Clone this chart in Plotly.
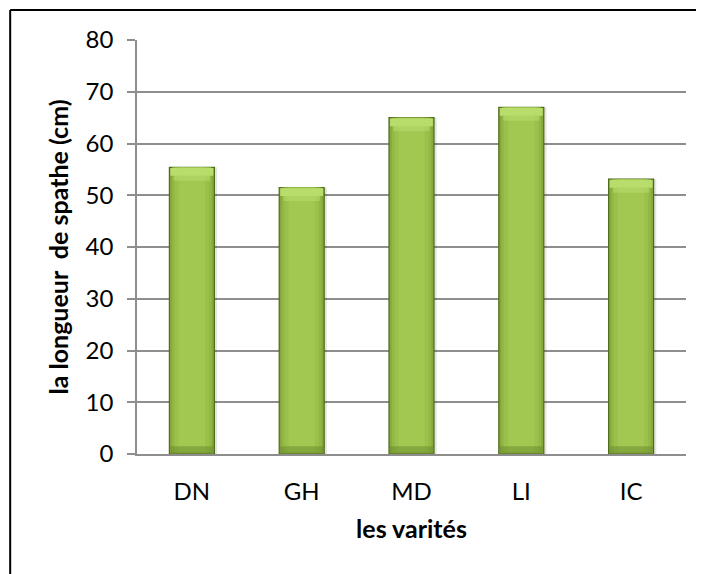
import plotly.graph_objects as go

categories = ["DN", "GH", "MD", "LI", "IC"]
values = [55.4, 51.5, 65.0, 67.0, 53.1]
y_ticks = [0, 10, 20, 30, 40, 50, 60, 70, 80]

FONT = "Lato"
GRID = "#8e8e8e"
W = 0.41

fig = go.Figure()

# soft shadow
fig.add_trace(go.Bar(x=categories, y=values, width=W, offset=-W / 2 + 0.025,
                     marker=dict(color="rgba(0,0,0,0.10)", line=dict(width=0)),
                     hoverinfo="skip", showlegend=False))
# outer bar (dark edges + outline)
fig.add_trace(go.Bar(x=categories, y=values, width=W,
                     marker=dict(color="#86a93c", line=dict(color="#4f6b1c", width=1.2)),
                     showlegend=False))
# gradient bands
for w, c in [(0.36, "#93b845"), (0.31, "#9bc14c"), (0.24, "#a2c852")]:
    fig.add_trace(go.Bar(x=categories, y=[v - 0.35 for v in values], base=[0.35] * 5, width=w,
                         marker=dict(color=c, line=dict(width=0)),
                         hoverinfo="skip", showlegend=False))
# bottom bevel
fig.add_trace(go.Bar(x=categories, y=[1.3] * 5, base=[0.2] * 5, width=W - 0.02,
                     marker=dict(color="rgba(100,130,40,0.45)", line=dict(width=0)),
                     hoverinfo="skip", showlegend=False))
# top bevel
fig.add_trace(go.Bar(x=categories, y=[1.5] * 5, base=[v - 1.65 for v in values], width=W - 0.02,
                     marker=dict(color="#b9dd6c", line=dict(width=0)),
                     hoverinfo="skip", showlegend=False))
fig.add_trace(go.Bar(x=categories, y=[1.0] * 5, base=[v - 2.6 for v in values], width=W - 0.08,
                     marker=dict(color="rgba(185,221,108,0.55)", line=dict(width=0)),
                     hoverinfo="skip", showlegend=False))

fig.update_layout(
    width=696, height=566,
    margin=dict(l=129, r=18, t=32, b=120),
    barmode="overlay",
    paper_bgcolor="white", plot_bgcolor="white",
    font=dict(family=FONT, size=24, color="#000000"),
    xaxis=dict(
        type="category",
        title=dict(text="<b>les varités</b>", font=dict(family=FONT, size=25), standoff=17),
        showgrid=False, showline=True, linecolor=GRID, linewidth=1.5,
        ticks="", ticklabelstandoff=15,
        tickfont=dict(family=FONT, size=24),
    ),
    yaxis=dict(
        range=[0, 80], tickvals=y_ticks,
        title=dict(text="<b>la longueur  de spathe (cm)</b>", font=dict(family=FONT, size=25), standoff=10),
        showgrid=True, gridcolor=GRID, gridwidth=1.5,
        showline=True, linecolor=GRID, linewidth=1.5,
        ticks="outside", ticklen=8, tickcolor=GRID, tickwidth=1.5,
        ticklabelstandoff=9,
        tickfont=dict(family=FONT, size=24),
        zeroline=False,
    ),
    shapes=[
        dict(type="line", xref="paper", yref="paper", x0=-0.231, x1=1.2, y0=1.0724, y1=1.0724,
             line=dict(color="black", width=2), layer="above"),
        dict(type="line", xref="paper", yref="paper", x0=-0.231, x1=-0.231, y0=-0.5, y1=1.0724,
             line=dict(color="black", width=2), layer="above"),
    ],
)

fig.write_html("out.html")
